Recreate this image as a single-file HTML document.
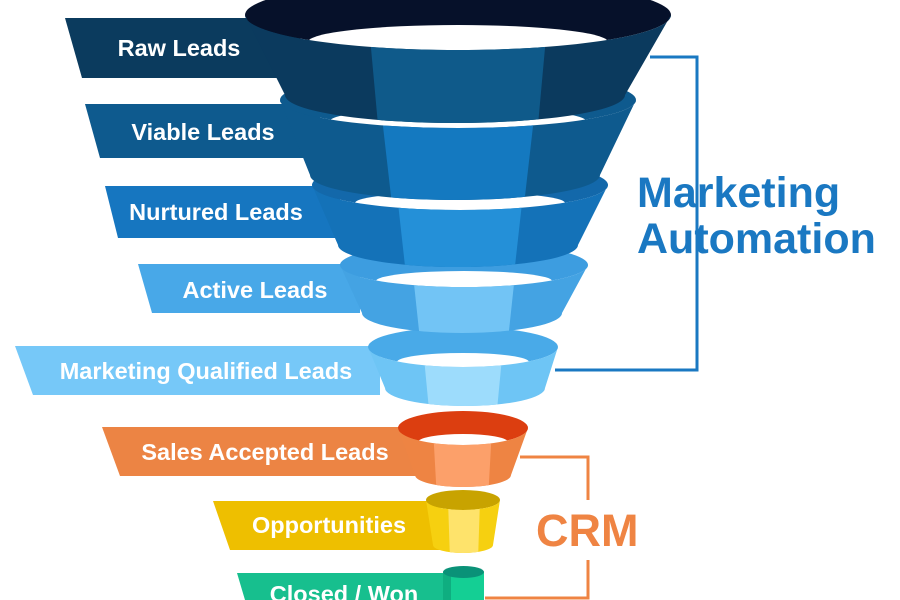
<!DOCTYPE html>
<html><head><meta charset="utf-8"><style>
html,body{margin:0;padding:0;background:#fff;width:900px;height:600px;overflow:hidden}
text{font-family:"Liberation Sans",sans-serif;font-weight:bold}
</style></head><body>
<svg width="900" height="600" viewBox="0 0 900 600" xmlns="http://www.w3.org/2000/svg">
<defs>
<clipPath id="c1"><path d="M245,15 L285,95 A170,28 0 0 0 625,95 L671,15 A213,35 0 0 1 245,15Z"/></clipPath>
<clipPath id="c2"><path d="M280,100 L310,175 A145,25 0 0 0 600,175 L636,100 A178,28 0 0 1 280,100Z"/></clipPath>
<clipPath id="c3"><path d="M312,185 L338,245 A120,22 0 0 0 578,245 L608,185 A148,25 0 0 1 312,185Z"/></clipPath>
<clipPath id="c4"><path d="M340,265 L362,313 A100,20 0 0 0 562,313 L588,265 A124,22 0 0 1 340,265Z"/></clipPath>
<clipPath id="c5"><path d="M368,347 L385,388 A80,18 0 0 0 545,388 L558,347 A95,20 0 0 1 368,347Z"/></clipPath>
<clipPath id="c6"><path d="M398,428 L415,475 A48,12 0 0 0 511,475 L528,428 A65,17 0 0 1 398,428Z"/></clipPath>
<clipPath id="c7"><path d="M426,500 L433,545 A30,8 0 0 0 493,545 L500,500 A37,10 0 0 1 426,500Z"/></clipPath>
</defs>

<polygon points="65,18 300,18 300,78 82,78" fill="#0b3b5e"/>
<polygon points="85,104 320,104 320,158 100,158" fill="#0e5a8e"/>
<polygon points="105,186 340,186 340,238 118,238" fill="#1676c0"/>
<polygon points="138,264 360,264 360,313 152,313" fill="#48a8e8"/>
<polygon points="15,346 380,346 380,395 33,395" fill="#76c8f8"/>
<polygon points="102,427 420,427 420,476 120,476" fill="#ec8444"/>
<polygon points="213,501 440,501 440,550 230,550" fill="#eebf00"/>
<polygon points="237,573 450,573 450,600 245,600" fill="#17bf8e"/>
<g fill="#fff" font-size="23.5" text-anchor="middle">
<text x="179" y="56">Raw Leads</text>
<text x="203" y="140">Viable Leads</text>
<text x="216" y="220">Nurtured Leads</text>
<text x="255" y="298">Active Leads</text>
<text x="206" y="379">Marketing Qualified Leads</text>
<text x="265" y="460">Sales Accepted Leads</text>
<text x="329" y="533">Opportunities</text>
<text x="344" y="602">Closed / Won</text>
</g>

<polyline points="650,57 697,57 697,370 555,370" fill="none" stroke="#1a78c2" stroke-width="3"/>
<polyline points="520,457 588,457 588,500" fill="none" stroke="#ef8443" stroke-width="3"/>
<polyline points="588,560 588,598 485,598" fill="none" stroke="#ef8443" stroke-width="3"/>
<text x="637" y="207" font-size="43" fill="#1a78c2">Marketing</text>
<text x="637" y="253" font-size="43" fill="#1a78c2">Automation</text>
<text x="536" y="546" font-size="45" fill="#ef8443">CRM</text>

<rect x="443" y="572" width="41" height="30" fill="#14cf94"/>
<rect x="443" y="572" width="8" height="30" fill="#0fae80"/>
<ellipse cx="463.5" cy="572" rx="20.5" ry="6" fill="#0a9278"/>

<ellipse cx="463" cy="500" rx="37" ry="10" fill="#c8a300"/>
<g clip-path="url(#c7)"><rect x="420" y="490" width="90" height="70" fill="#f6d010"/><polygon points="448,500 480,500 478,560 450,560" fill="#fee36b"/></g>

<ellipse cx="463" cy="428" rx="65" ry="17" fill="#dc3e10"/>
<ellipse cx="463" cy="442" rx="45" ry="8" fill="#fff"/>
<g clip-path="url(#c6)"><rect x="390" y="420" width="150" height="80" fill="#ee8443"/><polygon points="433,428 492,428 488,500 437,500" fill="#fca06a"/></g>

<ellipse cx="463" cy="347" rx="95" ry="20" fill="#49aae8"/>
<ellipse cx="463" cy="362" rx="66" ry="9" fill="#fff"/>
<g clip-path="url(#c5)"><rect x="360" y="340" width="210" height="80" fill="#6ec5f5"/><polygon points="423,347 503,347 497,410 429,410" fill="#9ddcfc"/></g>

<ellipse cx="464" cy="265" rx="124" ry="22" fill="#3d9de0"/>
<ellipse cx="464" cy="281" rx="88" ry="10" fill="#fff"/>
<g clip-path="url(#c4)"><rect x="330" y="255" width="270" height="90" fill="#44a3e3"/><polygon points="412,265 516,265 508,340 420,340" fill="#72c4f5"/></g>

<ellipse cx="460" cy="185" rx="148" ry="25" fill="#1368aa"/>
<ellipse cx="460" cy="203" rx="105" ry="11" fill="#fff"/>
<g clip-path="url(#c3)"><rect x="300" y="175" width="320" height="100" fill="#1472b8"/><polygon points="396,185 524,185 514,275 406,275" fill="#2490d8"/></g>

<ellipse cx="458" cy="100" rx="178" ry="28" fill="#0e5a8e"/>
<ellipse cx="458" cy="121" rx="128" ry="13" fill="#fff"/>
<g clip-path="url(#c2)"><rect x="270" y="90" width="380" height="120" fill="#0e5a8e"/><polygon points="380,100 536,100 524,205 392,205" fill="#1479c0"/></g>

<ellipse cx="458" cy="15" rx="213" ry="35" fill="#06112a"/>
<ellipse cx="458" cy="42" rx="150" ry="17" fill="#fff"/>
<g clip-path="url(#c1)"><rect x="240" y="0" width="440" height="130" fill="#0b3a5e"/><polygon points="368,15 548,15 538,125 378,125" fill="#0f5a8a"/></g>
</svg>
</body></html>
